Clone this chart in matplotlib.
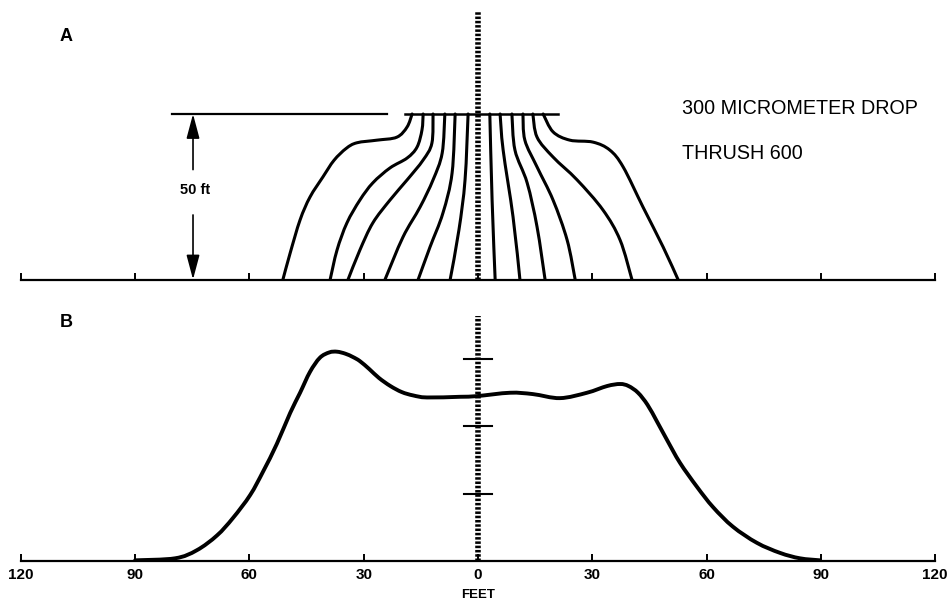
import matplotlib
matplotlib.use("Agg")
import matplotlib.pyplot as plt
import numpy as np
from matplotlib.path import Path
from matplotlib.patches import PathPatch

plt.rcParams["font.family"] = ["Liberation Sans", "DejaVu Sans"]

# --- panel A: drop trajectories, (feet downwind, height in feet) ---
release_height = 50
traj_left = [
    # outer left curve with shoulder
    ([-17.3, -18.6, -21.3, -26.5, -31.8, -34.6, -37.8, -40.7, -44.1, -46.7, -49.3, -51.2],
     [50, 46.1, 43.0, 42.1, 41.3, 39.6, 36.0, 31.0, 24.9, 18.0, 8.0, 0]),
    ([-14.4, -14.7, -16.0, -18.6, -23.1, -27.6, -31.0, -34.4, -37.0, -38.8],
     [50, 45.2, 40.0, 36.7, 33.7, 29.2, 24.0, 17.1, 8.9, 0]),
    ([-11.8, -12.1, -14.4, -18.6, -23.1, -27.6, -31.0, -34.1],
     [50, 41.2, 36.1, 30.1, 24.0, 17.1, 8.9, 0]),
    ([-8.7, -9.4, -11.8, -15.2, -19.7, -24.4],
     [50, 38.2, 30.1, 21.9, 12.8, 0]),
    ([-6.0, -6.8, -9.2, -12.6, -15.7],
     [50, 32.2, 20.1, 9.8, 0]),
    ([-2.6, -3.4, -5.0, -7.3],
     [50, 30.1, 15.0, 0]),
]
traj_right = [
    ([3.1, 3.7, 4.5], [50, 24.0, 0]),
    ([5.8, 6.6, 9.2, 11.0], [50, 39.1, 18.9, 0]),
    ([8.9, 9.7, 12.9, 15.5, 17.6], [50, 39.1, 29.2, 15.9, 0]),
    ([11.8, 12.3, 15.5, 19.7, 23.4, 25.5], [50, 42.1, 34.0, 24.0, 11.9, 0]),
    ([14.4, 15.5, 19.7, 26.0, 32.8, 37.3, 40.4], [50, 43.0, 37.0, 30.1, 21.0, 11.9, 0]),
    ([17.1, 19.7, 24.1, 30.2, 34.6, 38.1, 43.3, 48.6, 52.5],
     [50, 44.6, 42.1, 41.5, 39.1, 34.0, 21.9, 9.8, 0]),
]

# --- panel B: deposit profile ---
deposit_x = [-90.0, -79.5, -73.8, -68.5, -64.3, -59.8, -56.4, -52.8, -49.3, -46.7,
             -44.1, -41.5, -39.0, -37.0, -34.8, -32.8, -31.0, -28.5, -26.0, -23.0,
             -20.0, -17.0, -13.4, -4.7, -0.3, 8.4, 14.4, 21.5, 28.6, 33.9,
             37.3, 39.5, 42.0, 44.5, 47.0, 49.6, 53.0, 57.5, 61.7, 66.9,
             73.2, 79.3, 84.5, 89.8]
deposit_y = [0.01, 0.04, 0.16, 0.38, 0.64, 0.98, 1.33, 1.74, 2.20, 2.50,
             2.81, 3.02, 3.10, 3.11, 3.08, 3.03, 2.97, 2.85, 2.72, 2.60,
             2.51, 2.46, 2.43, 2.44, 2.45, 2.50, 2.48, 2.42, 2.50, 2.60,
             2.63, 2.60, 2.50, 2.32, 2.07, 1.80, 1.46, 1.10, 0.80, 0.51,
             0.27, 0.12, 0.04, 0.01]
scale_marks = [1, 2, 3]

ticks = [-120, -90, -60, -30, 0, 30, 60, 90, 120]
tick_labels = [str(abs(t)) for t in ticks]


def smooth(ax, xs, ys, lw):
    # Catmull-Rom through the read points, drawn as cubic Bezier path
    p = np.column_stack([xs, ys]).astype(float)
    n = len(p)
    verts = [p[0]]
    codes = [Path.MOVETO]
    for i in range(n - 1):
        p0 = p[max(i - 1, 0)]
        p1, p2 = p[i], p[i + 1]
        p3 = p[min(i + 2, n - 1)]
        verts += [p1 + (p2 - p0) / 6, p2 - (p3 - p1) / 6, p2]
        codes += [Path.CURVE4] * 3
    ax.add_patch(PathPatch(Path(verts, codes), fill=False, lw=lw,
                           edgecolor="black", capstyle="round",
                           joinstyle="round", zorder=3))


fig = plt.figure(figsize=(9.5, 6.09), dpi=100)
W, H = 950, 609
x0, x1 = 20.8, 935.2

ax_a = fig.add_axes([x0 / W, (H - 279.5) / H, (x1 - x0) / W, 279.5 / H])
ax_b = fig.add_axes([x0 / W, (H - 561) / H, (x1 - x0) / W, 271 / H])

for ax in (ax_a, ax_b):
    ax.set_xlim(-120, 120)
    for s in ("top", "left", "right"):
        ax.spines[s].set_visible(False)
    ax.spines["bottom"].set_linewidth(1.6)
    ax.set_yticks([])
    ax.set_xticks(ticks)
    ax.tick_params(axis="x", direction="in", length=5, width=1.4, pad=5)
    ax.patch.set_alpha(0)

ax_a.set_ylim(0, 279.5 / 3.31)
ax_b.set_ylim(0, 271 / 67.3)
ax_a.set_xticklabels([])
ax_b.set_xticklabels(tick_labels, fontsize=11, fontweight="bold")
ax_b.set_xlabel("FEET", fontsize=9.5, fontweight="bold", labelpad=5)

dot_style = dict(color="black", lw=4.0, linestyle=(0, (0.45, 0.32)), zorder=1,
                 dash_capstyle="butt")

# panel A
for xs, ys in traj_left + traj_right:
    smooth(ax_a, xs, ys, 2.2)
ax_a.plot([0, 0], [0, 81], clip_on=False, **dot_style)
ax_a.plot([-80.3, -23.9], [release_height] * 2, color="black", lw=1.6)
ax_a.plot([-19.2, 21.0], [release_height] * 2, color="black", lw=1.8)

arrow_x = -74.8
arr = dict(arrowstyle="-|>,head_length=0.75,head_width=0.2", color="black",
           lw=1.2, mutation_scale=20, shrinkA=0, shrinkB=0)
ax_a.annotate("", xy=(arrow_x, release_height), xytext=(arrow_x, 33.2), arrowprops=arr)
ax_a.annotate("", xy=(arrow_x, 0), xytext=(arrow_x, 19.5), arrowprops=arr)
ax_a.text(arrow_x + 0.5, 27.0, "50 ft", ha="center", va="center",
          fontsize=10.5, fontweight="bold")

ax_a.text(-108, 73.3, "A", ha="center", va="center", fontsize=13, fontweight="bold")
ax_a.text(53.5, 51.8, "300 MICROMETER DROP", ha="left", va="center", fontsize=14.2)
ax_a.text(53.5, 38.2, "THRUSH 600", ha="left", va="center", fontsize=14.2)

# panel B
ax_b.plot([0, 0], [0, 3.64], **dot_style)
for m in scale_marks:
    ax_b.plot([-3.6, 3.6], [m, m], color="black", lw=1.5, zorder=2)
smooth(ax_b, deposit_x, deposit_y, 2.8)
ax_b.text(-108, 3.54, "B", ha="center", va="center", fontsize=13, fontweight="bold")

fig.savefig("out.png", dpi=100)
